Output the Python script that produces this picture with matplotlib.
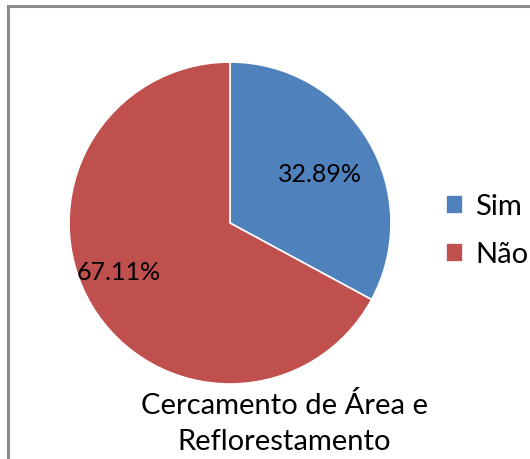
import numpy as np
import matplotlib.pyplot as plt
from matplotlib.patches import Rectangle

labels = ["Sim", "Não"]
values = [32.89, 67.11]
colors = ["#4F81BD", "#C0504D"]
title_text = "Cercamento de Área e\nReflorestamento"

plt.rcParams["font.family"] = ["Lato", "DejaVu Sans"]

fig = plt.figure(figsize=(5.30, 4.59), dpi=100)

# chart border (bottom and right are cut off in the original)
fig.patches.append(Rectangle((8 / 530, -0.1), 1.2, (459 - 6) / 459 + 0.1, transform=fig.transFigure,
                             fill=False, edgecolor="#8c8c8c", linewidth=2.2))

ax = fig.add_axes([0.1302, 0.1634, 0.6075, 0.7015])
wedges, texts, autotexts = ax.pie(
    values, colors=colors, startangle=90, counterclock=False,
    autopct="%.2f%%", pctdistance=0.68,
    wedgeprops=dict(edgecolor="white", linewidth=1.2),
    textprops=dict(fontsize=18, color="black"),
)
ax.set_xlim(-1, 1)
ax.set_ylim(-1, 1)
ax.set_aspect("equal")

# label placement similar to the original
label_pos = [(0.56, 0.30), (-0.69, -0.31)]
for t, p in zip(autotexts, label_pos):
    t.set_position(p)

leg = fig.legend(wedges, labels, loc="center left", bbox_to_anchor=(0.819, 0.497),
                 frameon=False, fontsize=21, handlelength=0.6, handleheight=0.6,
                 handletextpad=0.4, labelspacing=0.75, borderpad=0.2, borderaxespad=0.2)

fig.text(0.536, 0.077, title_text, ha="center", va="center", fontsize=21, linespacing=1.45)

fig.savefig("out.png", dpi=100)
